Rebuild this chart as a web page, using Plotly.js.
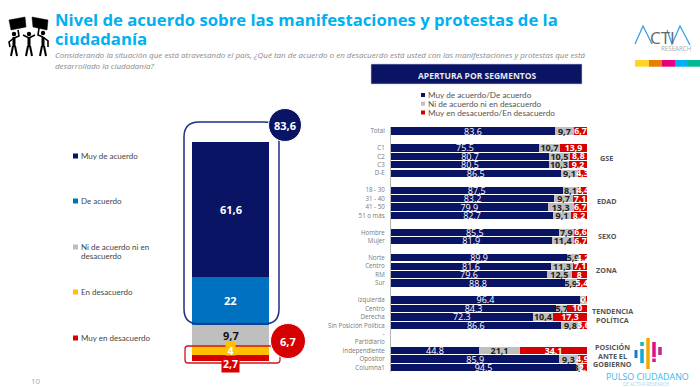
<!DOCTYPE html>
<html><head><meta charset="utf-8">
<script src="https://cdn.plot.ly/plotly-3.0.1.min.js"></script>
<style>html,body{margin:0;padding:0;background:#fff}#c{width:700px;height:387px}</style>
</head><body><div id="c"></div>
<script>
// ---------- data ----------
const segments = ["Total","","C1","C2","C3","D-E","","18 - 30","31 - 40","41 - 50","51 o más","","Hombre","Mujer","","Norte","Centro","RM","Sur","","Izquierda","Centro","Derecha","Sin Posición Política","-","Partidiario","Independiente","Opositor","Columna1"];
const agree    = [83.6,null,75.5,80.7,80.5,86.5,null,87.5,83.2,79.9,82.7,null,85.5,81.9,null,89.9,81.6,79.6,88.8,null,96.4,84.3,72.3,86.6,null,null,44.8,85.9,94.5];
const neutral  = [9.7,null,10.7,10.5,10.3,9.1,null,8.1,9.7,13.3,9.1,null,7.9,11.4,null,5.9,11.3,12.5,5.9,null,3,5.7,10.4,9.8,null,null,21.1,9.3,3.4];
const disagree = [6.7,null,13.9,8.8,9.2,4.3,null,4.4,7.1,6.7,8.2,null,6.6,6.7,null,4.2,7.1,8,5.4,null,0.7,10,17.3,3.6,null,null,34.1,4.9,2.1];

const stackNames  = ["Muy en desacuerdo","En desacuerdo","Ni de acuerdo ni en desacuerdo","De acuerdo","Muy de acuerdo"];
const stackValues = [2.7,4,9.7,22,61.6];
const stackColors = ["#d60000","#ffc000","#bfbfbf","#0070c0","#0a1464"];
const topTotal = "83,6", bottomTotal = "6,7";
const title1 = "Nivel de acuerdo sobre las manifestaciones y protestas de la";
const title2 = "ciudadanía";
const sub1 = "Considerando la situación que está atravesando el país, ¿Qué tan de acuerdo o en desacuerdo está usted con las manifestaciones y protestas que está";
const sub2 = "desarrollado la ciudadanía?";

// ---------- helpers ----------
const W=700,H=387, FONT='"Open Sans", sans-serif', SMALL='Lato, sans-serif';
const fx=x=>x/W, fy=y=>1-y/H;
const shapes=[], notes=[];
const rect=(x0,y0,x1,y1,fill,line)=>shapes.push({type:'rect',xref:'paper',yref:'paper',x0:fx(x0),x1:fx(x1),y0:fy(y0),y1:fy(y1),fillcolor:fill,line:line||{width:0}});
const circ=(cx,cy,r,fill,line)=>shapes.push({type:'circle',xref:'paper',yref:'paper',x0:fx(cx-r),x1:fx(cx+r),y0:fy(cy+r),y1:fy(cy-r),fillcolor:fill,line:line||{width:0}});
const path=(cmds,color,w,fill)=>shapes.push({type:'path',xref:'paper',yref:'paper',path:cmds.map(c=>c[0]+' '+c.slice(1).map((v,i)=>i%2?fy(v):fx(v)).join(' ')).join(' '),line:{color:color,width:w},fillcolor:fill||'rgba(0,0,0,0)'});
const line=(pts,color,w)=>path(pts.map((p,i)=>[i?'L':'M',p[0],p[1]]),color,w);
const round=(l,t,r,b,q,color,w)=>path([['M',l+q,t],['L',r-q,t],['Q',r,t,r,t+q],['L',r,b-q],['Q',r,b,r-q,b],['L',l+q,b],['Q',l,b,l,b-q],['L',l,t+q],['Q',l,t,l+q,t]],color,w);
const note=(x,y,text,size,color,o,fam)=>notes.push(Object.assign({xref:'paper',yref:'paper',x:fx(x),y:fy(y),text:text,showarrow:false,xanchor:'left',yanchor:'middle',borderpad:0,font:{family:fam||FONT,size:size,color:color}},o||{}));
const comma=v=>v==null?'':String(v).replace('.',',');
const boldComma=v=>v==null?'':'<b>'+comma(v)+'</b>';

// ---------- traces ----------
const rows=segments.map((_,i)=>i);
const hbar=(vals,color,txt,tcolor,size)=>({type:'bar',orientation:'h',y:rows,x:vals,xaxis:'x',yaxis:'y',marker:{color:color},text:txt,textposition:'inside',insidetextanchor:'middle',textangle:0,constraintext:'none',cliponaxis:false,textfont:{family:FONT,size:size,color:tcolor},hoverinfo:'skip',showlegend:false});
const traces=[
 hbar(agree,'#0a1464',agree.map(v=>v==null?'':v.toFixed(1)),'#ffffff',9),
 hbar(neutral,'#bfbfbf',neutral.map(boldComma),'#222222',9),
 hbar(disagree,'#d60000',disagree.map(boldComma),'#ffffff',8.8)
];
stackValues.forEach((v,i)=>traces.push({type:'bar',x:[0],y:[v],width:1,xaxis:'x2',yaxis:'y2',marker:{color:stackColors[i]},name:stackNames[i],hoverinfo:'skip',showlegend:false}));

// ---------- left stack labels ----------
let base=0; const mids=stackValues.map(v=>{const m=base+v/2;base+=v;return m;});
const stackNote=(i,color,size,extra)=>notes.push(Object.assign({xref:'x2',yref:'y2',x:0,y:mids[i],text:boldComma(stackValues[i]),showarrow:false,borderpad:0,font:{family:FONT,size:size,color:color}},extra||{}));
stackNote(4,'#ffffff',11);
stackNote(3,'#ffffff',11);
stackNote(2,'#111111',11);
stackNote(1,'#ffffff',10.5,{bgcolor:stackColors[1],borderpad:1.5});
stackNote(0,'#ffffff',10.5,{bgcolor:stackColors[0],borderpad:1,yshift:-6});

// ---------- outlines + bubbles ----------
round(184,122,279,324,15,'#1b2f85',1.5);
round(185,346,280,363,3,'#d8101c',1.3);
circ(285,125,16.5,'#0a1464',{color:'#ffffff',width:1});
circ(288,341,17.5,'#d60000',{color:'#ffffff',width:1});
note(285,125,'<b>'+topTotal+'</b>',11,'#ffffff',{xanchor:'center'});
note(288,341,'<b>'+bottomTotal+'</b>',11,'#ffffff',{xanchor:'center'});

// ---------- left legend ----------
[[156,4],[201,3],[247,2],[292,1],[338,0]].forEach(([y,i])=>{
  rect(73,y-2.5,78,y+2.5,stackColors[i]);
  const t=i===2?'Ni de acuerdo ni en':stackNames[i];
  note(79.5,y,t,8,'#444444',{},SMALL);
});
note(79.5,256,'desacuerdo',8,'#444444',{},SMALL);

// ---------- header ----------
note(54,19.5,'<b>'+title1+'</b>',16.7,'#00b0f0');
note(54,39,'<b>'+title2+'</b>',16.7,'#00b0f0');
note(54,54.5,'<i>'+sub1+'</i>',8,'#8a8a8a');
note(54,65,'<i>'+sub2+'</i>',8,'#8a8a8a');

// ---------- segments banner + legend ----------
rect(371,64,582,84,'#0a1464',{color:'#c9cbdc',width:0.6});
note(477,75,'<b>APERTURA POR SEGMENTOS</b>',8.5,'#e6e7f2',{xanchor:'center'});
[['Muy de acuerdo/De acuerdo','#0a1464',95],['Ni de acuerdo ni en desacuerdo','#bfbfbf',103.7],['Muy en desacuerdo/En desacuerdo','#d60000',112.5]].forEach(([t,c,y])=>{
  rect(421,y-2,425,y+2,c);
  note(427,y,t,8.2,'#555555',{},SMALL);
});

// ---------- group labels ----------
const grp=(x,y,t)=>note(x,y,'<b>'+t+'</b>',7.2,'#555555',{xanchor:'center'});
grp(606,158,'GSE');grp(607,201,'EDAD');grp(607,236,'SEXO');grp(606,270,'ZONA');
grp(612,311,'TENDENCIA');grp(612,319.5,'POLÍTICA');
grp(612,347,'POSICIÓN');grp(612,355.5,'ANTE EL');grp(612,363.5,'GOBIERNO');

// ---------- protest icon ----------
path([['M',9,20],['L',25,17],['L',26,27],['L',11,30],['Z']],'#000000',0.5,'#000000');
path([['M',32,17],['L',48,20],['L',47,30],['L',33,27],['Z']],'#000000',0.5,'#000000');
[[14,34],[29,34],[43,33]].forEach(([x,y])=>{
  circ(x,y,2.2,'#000000');
  line([[x,37],[x,47]],'#000000',3);
  line([[x-1,46],[x-3,56]],'#000000',2);
  line([[x+1,46],[x+3,56]],'#000000',2);
});
line([[14,38],[9,42],[10,47]],'#000000',1.6);line([[14,38],[19,36],[18,30]],'#000000',1.6);
line([[29,38],[23,35]],'#000000',1.6);line([[29,38],[35,35]],'#000000',1.6);
line([[43,37],[38,35],[39,28]],'#000000',1.6);line([[43,37],[48,41],[48,47]],'#000000',1.6);

// ---------- Activa logo ----------
line([[635,44],[643,26],[652,44]],'#3aa0e8',1.3);
line([[667,30],[672,44],[680,26],[690,45]],'#3aa0e8',1.3);
note(662,38,'CTI',17,'#666666',{xanchor:'center'});
note(676,48.5,'RESEARCH',6.2,'#aaaaaa',{xanchor:'center'});
[[635,649,'#ffd42a'],[649,662,'#e67e00'],[662,675,'#e6007e'],[675,688,'#00b0f0'],[688,700,'#00b894']].forEach(([a,b,c])=>rect(a,60,b,66.7,c));

// ---------- Pulso logo ----------
const bar=(x,y0,y1,c,w)=>line([[x,y0],[x,y1]],c,w);
bar(636,350,358,'#1f78c8',3);
bar(642,342,346,'#17b8b0',3.5);bar(642,349,363,'#12a8d8',3.5);
bar(648,338,369,'#f5a800',3.5);
bar(654,342,357,'#e0107e',3.5);bar(654,358.5,362,'#e0107e',3.5);
bar(660,347,355,'#c0259a',3.5);
note(605,376.5,'PULSO CIUDADANO',8.9,'#39b7ec');
note(622,383.5,'DE ACTIVA RESEARCH',4.6,'#9fd8f2');
note(36,380.5,'10',8,'#aaaaaa',{xanchor:'center'});

// ---------- layout ----------
const layout={
 width:W,height:H,margin:{l:0,r:0,t:0,b:0,pad:0},paper_bgcolor:'#ffffff',plot_bgcolor:'rgba(0,0,0,0)',
 barmode:'stack',bargap:0.14,showlegend:false,font:{family:FONT},
 xaxis:{domain:[fx(391),fx(391+1.96*102)],range:[0,102],visible:false,fixedrange:true},
 yaxis:{domain:[fy(371.8),fy(126.8)],range:[28.5,-0.5],anchor:'x',tickmode:'array',tickvals:rows,ticktext:segments,
        showline:true,linecolor:'#b5b5b5',linewidth:1,showgrid:false,zeroline:false,ticks:'outside',ticklen:4,tickcolor:'rgba(0,0,0,0)',
        tickfont:{family:FONT,size:6.2,color:'#777777'},automargin:false,fixedrange:true},
 xaxis2:{domain:[fx(192),fx(269)],range:[-0.5,0.5],visible:false,anchor:'y2',fixedrange:true},
 yaxis2:{domain:[fy(361+5*2.19),fy(142)],range:[-5,100],visible:false,anchor:'x2',fixedrange:true},
 shapes:shapes,annotations:notes
};
Plotly.newPlot('c',traces,layout,{displayModeBar:false,staticPlot:true});
</script></body></html>
